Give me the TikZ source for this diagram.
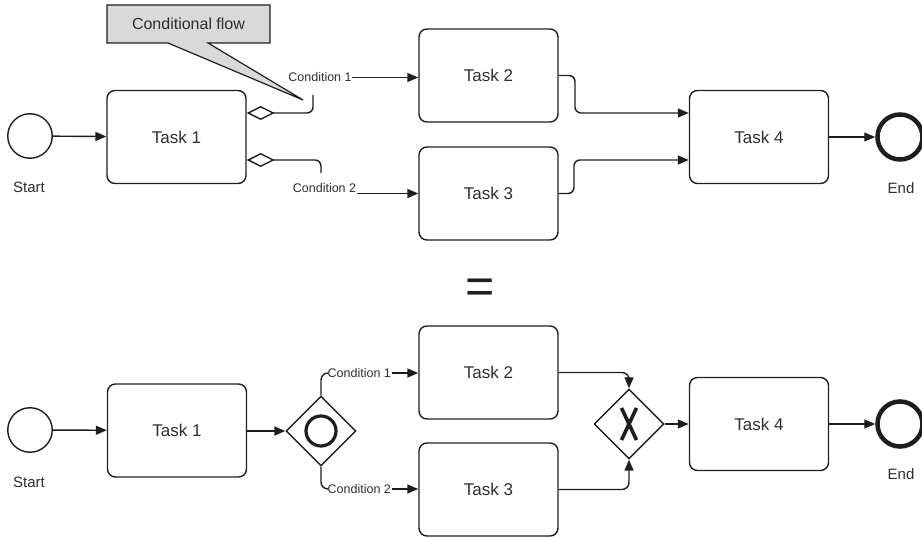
\documentclass[tikz,border=0pt]{standalone}
\usepackage{fontspec}
\setmainfont{Liberation Sans}
\usetikzlibrary{arrows.meta,shapes.geometric,calc}

\definecolor{ink}{HTML}{1E1E1E}
\definecolor{txt}{HTML}{2E2E2E}
\definecolor{calloutgray}{HTML}{D9D9D9}

\tikzset{
  task/.style={draw=ink, line width=1.4pt, rounded corners=8pt,
    minimum width=139pt, minimum height=93pt, inner sep=0pt,
    text=txt, font=\fontsize{17}{20}\selectfont},
  startev/.style={circle, draw=ink, line width=1.4pt, minimum size=44.5pt, inner sep=0pt},
  endev/.style={circle, draw=ink, line width=4.5pt, minimum size=45pt, inner sep=0pt},
  evlabel/.style={text=txt, font=\fontsize{15}{18}\selectfont, inner sep=0pt},
  condlabel/.style={text=txt, font=\fontsize{12.5}{15}\selectfont, inner sep=0.5pt},
  gateway/.style={diamond, draw=ink, line width=1.4pt, shape aspect=1,
    minimum width=70pt, minimum height=70pt, inner sep=0pt},
  flow/.style={draw=ink, line width=1.4pt, -{Triangle[length=11pt,width=9pt]}},
  plainflow/.style={draw=ink, line width=1.4pt},
  condflow/.style={draw=ink, line width=1.4pt,
    {Diamond[open,length=28pt,width=14pt]}-},
  callouttext/.style={text=txt, font=\fontsize{16}{19}\selectfont, inner sep=0pt},
}

\begin{document}
\begin{tikzpicture}[x=1pt,y=-1pt]
\useasboundingbox (0,0) rectangle (922,537);

% ---------------- upper process: conditional sequence flows ----------------
\node[startev] (s1) at (30,136) {};
\node[evlabel] (s1l) at (29,187) {Start};
\node[task] (t1) at (176.5,137) {Task 1};
\node[task] (t2) at (488.5,75.5) {Task 2};
\node[task] (t3) at (488.5,193.5) {Task 3};
\node[task] (t4) at (759,137) {Task 4};
\node[endev] (e1) at (900,137) {};
\node[evlabel] (e1l) at (901,188) {End};

\draw[flow] (s1) -- (t1);

% callout box with its pointer
\coordinate (cftip) at (303,100);
\path[fill=calloutgray, draw=ink, line width=1.2pt, line join=miter]
  (107,5) -- (270,5) -- (270,43) -- (208,43) -- (cftip) -- (168,43) -- (107,43) -- cycle;
\node[callouttext] (cf) at (188.5,24) {Conditional flow};

% condition 1
\node[condlabel] (c1) at (320,77.5) {Condition 1};
\draw[condflow, rounded corners=6pt] ([yshift=24pt]t1.east) -- (313,113) -- (313,95);
\draw[flow] (c1.east) -- (t2.west |- c1.east);

% condition 2
\node[condlabel] (c2) at (324.5,188) {Condition 2};
\draw[condflow, rounded corners=6pt] ([yshift=-23pt]t1.east) -- (321,160) -- (321,173);
\draw[flow] (c2.east |- t3.west) -- (t3.west);

% merge into task 4
\draw[flow, rounded corners=6pt] (t2.east) -- (575,75.5) -- (575,113) -- ([yshift=24pt]t4.west);
\draw[flow, rounded corners=6pt] (t3.east) -- (574,193.5) -- (574,160) -- ([yshift=-23pt]t4.west);
\draw[flow] (e1.west -| t4.east) -- (e1);

% equals sign
\node[anchor=base, text=ink, font=\fontsize{50}{50}\selectfont, inner sep=0pt] (eq) at (480.5,304) {=};

% ---------------- lower process: gateways ----------------
\node[startev] (s2) at (30,430) {};
\node[evlabel] (s2l) at (29,482) {Start};
\node[task] (t1b) at (177,430.5) {Task 1};
\node[gateway] (g1) at (321,431) {};
\draw[line width=3.2pt, draw=ink] (g1.center) circle[radius=15pt];
\node[task] (t2b) at (488.5,372.5) {Task 2};
\node[task] (t3b) at (488.5,489.5) {Task 3};
\node[gateway] (g2) at (629,424) {};
\draw[line width=3.6pt, draw=ink] ([shift={(-7.5,-16)}]g2.center) -- ([shift={(7.5,16)}]g2.center);
\draw[line width=3.6pt, draw=ink] ([shift={(7.5,-16)}]g2.center) -- ([shift={(-7.5,16)}]g2.center);
\node[task] (t4b) at (759,424) {Task 4};
\node[endev] (e2) at (900,424) {};
\node[evlabel] (e2l) at (901,474) {End};

\draw[flow] (s2) -- (t1b);
\draw[flow] (t1b.east |- g1.west) -- (g1.west);

\node[condlabel, anchor=west] (c3) at (327,373) {Condition 1};
\node[condlabel, anchor=west] (c4) at (327,489) {Condition 2};
\draw[plainflow, rounded corners=7pt] (g1.north) |- (c3.west);
\draw[plainflow, rounded corners=7pt] (g1.south) |- (c4.west);
\draw[flow] (c3.east) -- (t2b.west |- c3.east);
\draw[flow] (c4.east) -- (t3b.west |- c4.east);

\draw[flow, rounded corners=7pt] (t2b.east) -| (g2.north);
\draw[flow, rounded corners=7pt] (t3b.east) -| (g2.south);
\draw[flow] (g2.east) -- (t4b.west |- g2.east);
\draw[flow] (t4b.east) -- (e2);
\end{tikzpicture}
\end{document}
